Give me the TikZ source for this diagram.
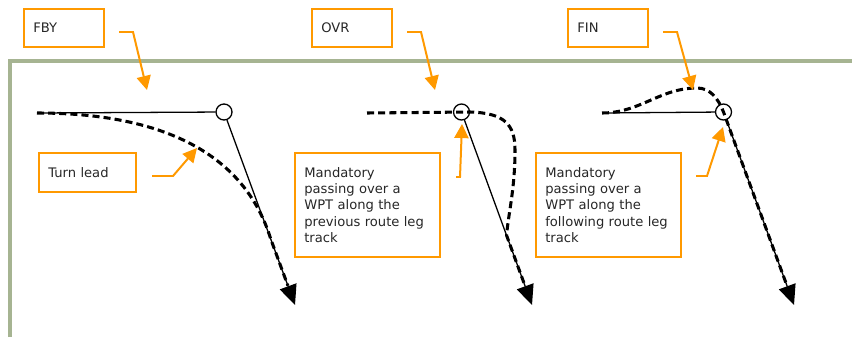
\documentclass[tikz,border=0pt]{standalone}
\usepackage{fontspec}
\setmainfont{DejaVu Sans}
\usetikzlibrary{arrows.meta,calc}
\definecolor{wptorange}{RGB}{255,153,0}
\definecolor{framegreen}{RGB}{166,180,146}

\begin{document}
\begin{tikzpicture}[x=0.03cm, y=-0.03cm,
  lbl/.style={draw=wptorange, line width=1.7pt, anchor=north west, align=left, inner xsep=0.28cm, text=black!85, font=\fontsize{11.2}{14}\selectfont},
  wpt/.style={draw, circle, fill=white, minimum size=0.48cm, inner sep=0pt, line width=1.1pt},
  leg/.style={line width=1.1pt},
  route/.style={line width=2.6pt, dash pattern=on 6pt off 3.5pt},
  leader/.style={wptorange, line width=1.7pt, -{Triangle[length=12pt,width=12pt]}},
  legarrow/.style={leg, -{Triangle[length=17pt,width=15pt]}}
]
\useasboundingbox (0,0) rectangle (852,337);
\draw[framegreen, line width=2.6pt] (10,337) -- (10,61) -- (852,61);

% fly-by
\coordinate (start1) at (37,113);
\coordinate (tip1) at (295,305);
\node[wpt] (wp1) at (224,112) {};
\draw[leg] (start1) -- (wp1);
\draw[legarrow] (wp1) -- (tip1);
\coordinate (bend1) at ($(wp1)!0.66!(tip1)$);
\draw[route] (start1) .. controls (165,113) and (245,155) .. (bend1) -- ($(wp1)!0.9!(tip1)$);

% fly-over
\coordinate (start2) at (367,113);
\coordinate (tip2) at (532,305);
\node[wpt] (wp2) at (461.5,112) {};
\draw[legarrow] (wp2) -- (tip2);
\coordinate (bend2) at ($(wp2)!0.64!(tip2)$);
\draw[route] (start2) -- (wp2.east) .. controls (505,113) and (515,125) .. (515,150)
  .. controls (515,190) and (508,215) .. (bend2) -- ($(wp2)!0.9!(tip2)$);

% fly-in
\coordinate (start3) at (602,113);
\coordinate (tip3) at (794,305);
\coordinate (peak3) at (697,88);
\node[wpt] (wp3) at (723.5,112) {};
\draw[leg] (start3) -- (wp3);
\draw[legarrow] (wp3) -- (tip3);
\draw[route] (start3) .. controls (640,113) and (660,88) .. (peak3)
  .. controls (710,88) and (718,98) .. (wp3.center) -- ($(wp3)!0.9!(tip3)$);

% labels
\node[lbl, text width=1.84cm, minimum height=1.14cm] (fby) at (23,8) {FBY};
\node[lbl, text width=2.35cm, minimum height=1.17cm] (lead) at (38,152) {Turn lead};
\node[lbl, text width=1.84cm, minimum height=1.14cm] (ovr) at (311,8) {OVR};
\node[lbl, text width=3.79cm, minimum height=3.12cm] (prev) at (294,152) {Mandatory\\passing over a\\WPT along the\\previous route leg\\track};
\node[lbl, text width=1.84cm, minimum height=1.14cm] (fin) at (567,8) {FIN};
\node[lbl, text width=3.79cm, minimum height=3.12cm] (next) at (535,152) {Mandatory\\passing over a\\WPT along the\\following route leg\\track};

\coordinate (fbyfrom) at (119,32);
\coordinate (fbyto) at (147,90);
\coordinate (leadfrom) at (152,176);
\coordinate (leadto) at (197,148);
\coordinate (ovrfrom) at (407,32);
\coordinate (ovrto) at (435,90);
\coordinate (prevfrom) at (456,177);
\coordinate (prevto) at (462,124);
\coordinate (finfrom) at (663,32);
\coordinate (finto) at (693,90);
\coordinate (nextfrom) at (696,176);
\coordinate (nextto) at (723,127);
\draw[leader] (fbyfrom) -- ++(14,0) -- (fbyto);
\draw[leader] (leadfrom) -- ++(21,0) -- (leadto);
\draw[leader] (ovrfrom) -- ++(14,0) -- (ovrto);
\draw[leader] (prevfrom) -- ++(4,0) -- (prevto);
\draw[leader] (finfrom) -- ++(14,0) -- (finto);
\draw[leader] (nextfrom) -- ++(11,0) -- (nextto);
\end{tikzpicture}
\end{document}
